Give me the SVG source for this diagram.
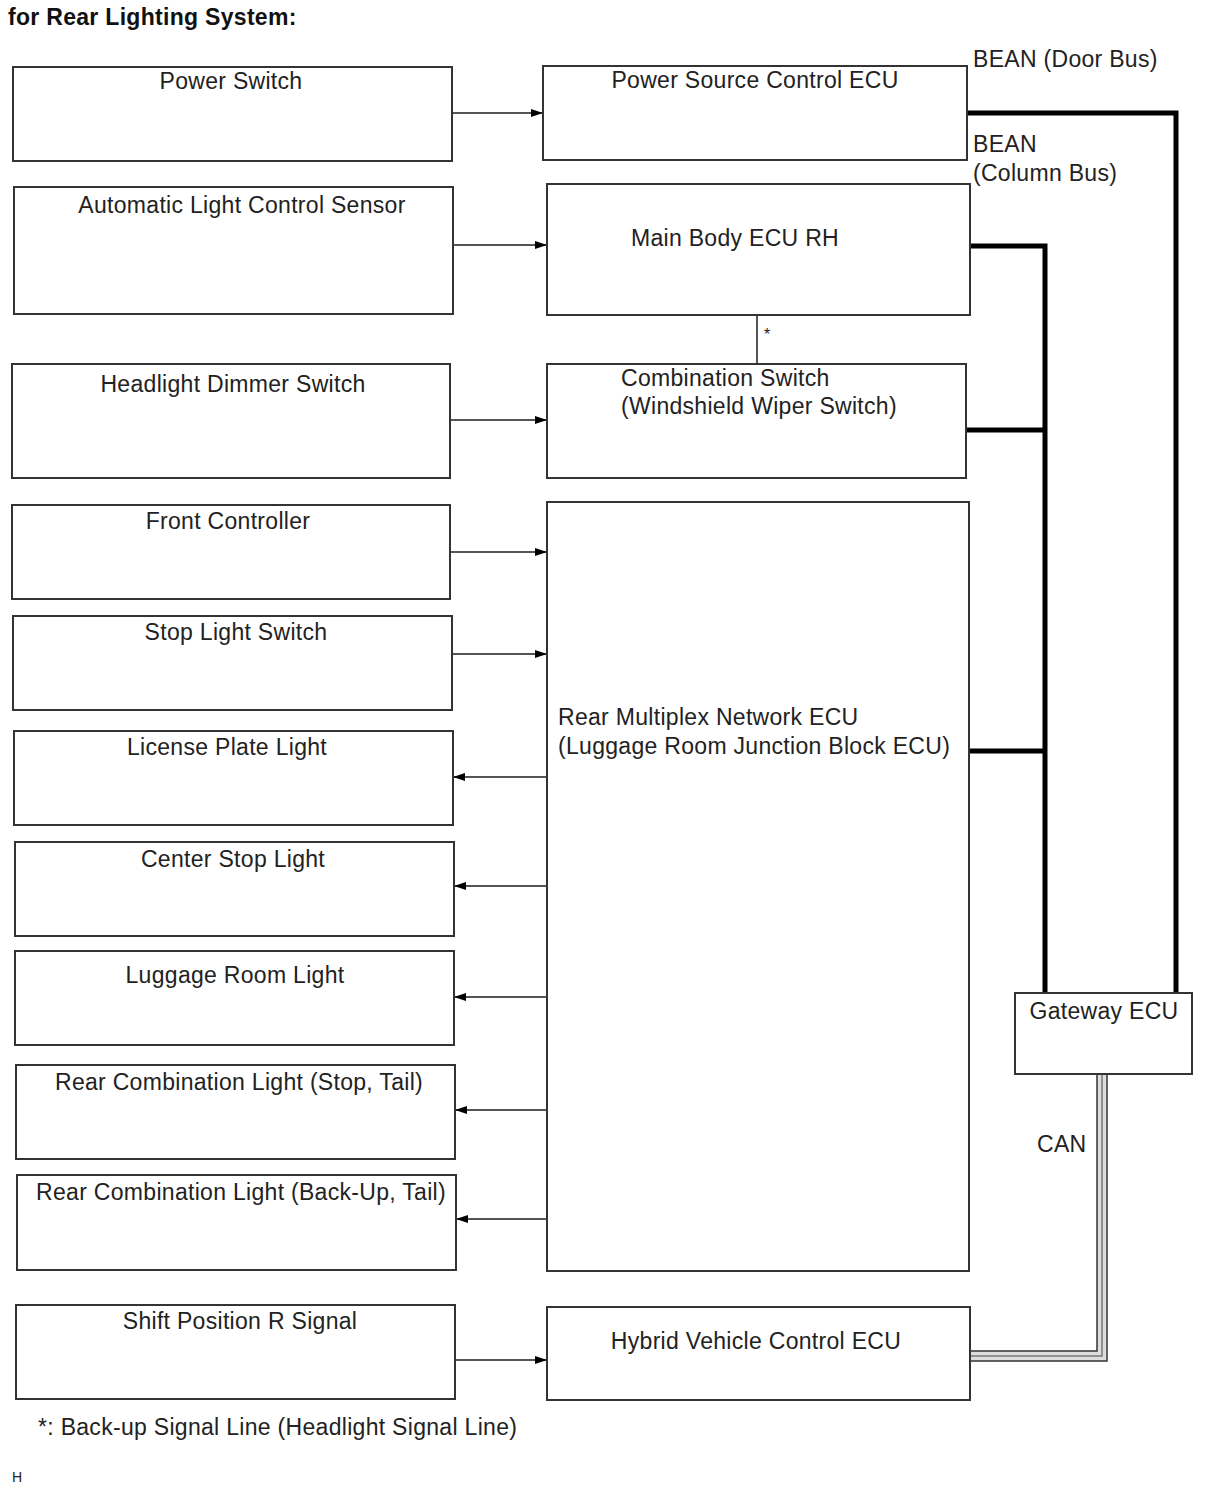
<svg xmlns="http://www.w3.org/2000/svg" width="1208" height="1496" viewBox="0 0 1208 1496">
<defs>
<style>
.box{fill:#fff;stroke:#333;stroke-width:2}
.t{font-family:"Liberation Sans",Arial,sans-serif;font-size:23px;letter-spacing:0.3px;fill:#222}
.c{text-anchor:middle}
.ln{stroke:#555;stroke-width:2;fill:none}
.bus{stroke:#000;stroke-width:5;fill:none}
.can{stroke:#333;stroke-width:1.5;fill:none}
</style>
<marker id="ar" viewBox="0 0 12 10" refX="12" refY="5" markerWidth="12" markerHeight="10" markerUnits="userSpaceOnUse" orient="auto">
<path d="M0,1 L12,5 L0,9 z" fill="#000"/>
</marker>
</defs>
<rect width="1208" height="1496" fill="#fff"/>
<text x="8" y="25" style="font-family:'Liberation Sans',Arial,sans-serif;font-size:23px;letter-spacing:0.3px;font-weight:bold;fill:#111">for Rear Lighting System:</text>

<g id="connectors">
<line class="ln" x1="452" y1="113" x2="543" y2="113" marker-end="url(#ar)"/>
<line class="ln" x1="453" y1="245" x2="547" y2="245" marker-end="url(#ar)"/>
<line class="ln" x1="450" y1="420" x2="547" y2="420" marker-end="url(#ar)"/>
<line class="ln" x1="450" y1="552" x2="547" y2="552" marker-end="url(#ar)"/>
<line class="ln" x1="452" y1="654" x2="547" y2="654" marker-end="url(#ar)"/>
<line class="ln" x1="547" y1="777" x2="453" y2="777" marker-end="url(#ar)"/>
<line class="ln" x1="547" y1="886" x2="454" y2="886" marker-end="url(#ar)"/>
<line class="ln" x1="547" y1="997" x2="454" y2="997" marker-end="url(#ar)"/>
<line class="ln" x1="547" y1="1110" x2="455" y2="1110" marker-end="url(#ar)"/>
<line class="ln" x1="547" y1="1219" x2="456" y2="1219" marker-end="url(#ar)"/>
<line class="ln" x1="455" y1="1360" x2="547" y2="1360" marker-end="url(#ar)"/>
<line class="ln" x1="757" y1="315" x2="757" y2="364"/>
<text class="t" x="764" y="340" style="font-size:16px">*</text>
<polyline class="bus" points="967,113 1176,113 1176,993"/>
<polyline class="bus" points="970,246 1045,246 1045,993"/>
<line class="bus" x1="966" y1="430" x2="1045" y2="430"/>
<line class="bus" x1="969" y1="751" x2="1045" y2="751"/>
<polyline points="1102,1074 1102,1356 970,1356" fill="none" stroke="#ddd" stroke-width="10"/>
<polyline class="can" points="1097,1074 1097,1351 970,1351"/>
<polyline points="1102,1074 1102,1356 970,1356" fill="none" stroke="#777" stroke-width="1.5"/>
<polyline class="can" points="1107,1074 1107,1361 970,1361"/>
<text class="t" x="973" y="67">BEAN (Door Bus)</text>
<text class="t" x="973" y="152">BEAN</text>
<text class="t" x="973" y="181">(Column Bus)</text>
<text class="t" x="1037" y="1152">CAN</text>
</g>

<g id="power-switch"><rect class="box" x="13" y="67" width="439" height="94"/><text class="t c" x="231" y="89">Power Switch</text></g>
<g id="auto-light-sensor"><rect class="box" x="14" y="187" width="439" height="127"/><text class="t c" x="242" y="213">Automatic Light Control Sensor</text></g>
<g id="headlight-dimmer"><rect class="box" x="12" y="364" width="438" height="114"/><text class="t c" x="233" y="392">Headlight Dimmer Switch</text></g>
<g id="front-controller"><rect class="box" x="12" y="505" width="438" height="94"/><text class="t c" x="228" y="529">Front Controller</text></g>
<g id="stop-light-switch"><rect class="box" x="13" y="616" width="439" height="94"/><text class="t c" x="236" y="640">Stop Light Switch</text></g>
<g id="license-plate-light"><rect class="box" x="14" y="731" width="439" height="94"/><text class="t c" x="227" y="755">License Plate Light</text></g>
<g id="center-stop-light"><rect class="box" x="15" y="842" width="439" height="94"/><text class="t c" x="233" y="867">Center Stop Light</text></g>
<g id="luggage-room-light"><rect class="box" x="15" y="951" width="439" height="94"/><text class="t c" x="235" y="983">Luggage Room Light</text></g>
<g id="rear-comb-stop-tail"><rect class="box" x="16" y="1065" width="439" height="94"/><text class="t c" x="239" y="1090">Rear Combination Light (Stop, Tail)</text></g>
<g id="rear-comb-backup-tail"><rect class="box" x="17" y="1175" width="439" height="95"/><text class="t c" x="241" y="1200">Rear Combination Light (Back-Up, Tail)</text></g>
<g id="shift-position"><rect class="box" x="16" y="1305" width="439" height="94"/><text class="t c" x="240" y="1329">Shift Position R Signal</text></g>

<g id="power-source-ecu"><rect class="box" x="543" y="66" width="424" height="94"/><text class="t c" x="755" y="88">Power Source Control ECU</text></g>
<g id="main-body-ecu"><rect class="box" x="547" y="184" width="423" height="131"/><text class="t c" x="735" y="246">Main Body ECU RH</text></g>
<g id="combination-switch"><rect class="box" x="547" y="364" width="419" height="114"/><text class="t" x="621" y="386">Combination Switch</text><text class="t" x="621" y="414">(Windshield Wiper Switch)</text></g>
<g id="rear-multiplex-ecu"><rect class="box" x="547" y="502" width="422" height="769"/><text class="t" x="558" y="725">Rear Multiplex Network ECU</text><text class="t" x="558" y="754">(Luggage Room Junction Block ECU)</text></g>
<g id="hybrid-ecu"><rect class="box" x="547" y="1307" width="423" height="93"/><text class="t c" x="756" y="1349">Hybrid Vehicle Control ECU</text></g>
<g id="gateway-ecu"><rect class="box" x="1015" y="993" width="177" height="81"/><text class="t c" x="1104" y="1019">Gateway ECU</text></g>

<text class="t" x="38" y="1435">*: Back-up Signal Line (Headlight Signal Line)</text>
<text class="t" x="12" y="1482" style="font-size:14px;letter-spacing:0">H</text>
</svg>
